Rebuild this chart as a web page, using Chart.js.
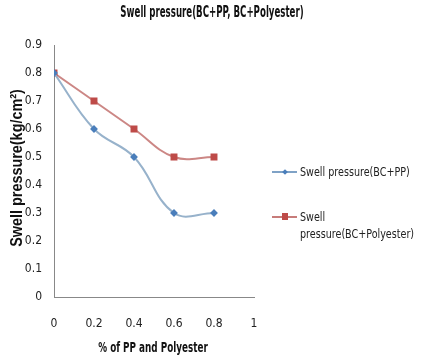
<!DOCTYPE html>
<html><head><meta charset="utf-8">
<script src="https://cdn.jsdelivr.net/npm/chart.js@4/dist/chart.umd.min.js"></script>
<style>
html,body{margin:0;padding:0;background:#fff;}
#wrap{position:relative;width:430px;height:358px;}
#legend{position:absolute;left:272px;top:160px;font-family:"DejaVu Sans Condensed","Liberation Sans Narrow",sans-serif;font-size:13px;color:#222;}
.item{position:absolute;left:0;white-space:nowrap;line-height:17px;}
.sw{position:absolute;left:0;top:8px;width:25px;height:2px;}
.mk{position:absolute;}
.txt{position:absolute;left:28px;top:0;transform:scaleX(0.82);transform-origin:left top;}
</style></head>
<body><div id="wrap"><canvas id="c" width="430" height="358"></canvas>
<div id="legend">
 <div class="item" style="top:3px"><div class="sw" style="background:#7FA2C6"></div><div class="mk" style="top:7px;left:11px;width:4px;height:4px;background:#4A7EBB;transform:rotate(45deg)"></div><div class="txt">Swell pressure(BC+PP)</div></div>
 <div class="item" style="top:48px"><div class="sw" style="background:#C77C7A"></div><div class="mk" style="top:5px;left:10px;width:6px;height:7px;background:#BE4B48"></div><div class="txt">Swell<br>pressure(BC+Polyester)</div></div>
</div></div>
<script>
const xValues = [0, 0.2, 0.4, 0.6, 0.8];
const ppValues = [0.8, 0.6, 0.5, 0.3, 0.3];
const polyValues = [0.8, 0.7, 0.6, 0.5, 0.5];
const seriesNames = ["Swell pressure(BC+PP)", "Swell pressure(BC+Polyester)"];
const xTickLabels = [0, 0.2, 0.4, 0.6, 0.8, 1];
const yTickLabels = [0, 0.1, 0.2, 0.3, 0.4, 0.5, 0.6, 0.7, 0.8, 0.9];
const chartTitle = 'Swell pressure(BC+PP, BC+Polyester)';
const xAxisTitle = '% of PP and Polyester';
const yAxisTitle = 'Swell pressure(kg/cm²)';

const narrow = '"DejaVu Sans Condensed","Liberation Sans Narrow",sans-serif';
const toPts = (ys) => xValues.map((x, i) => ({x, y: ys[i]}));

function drawText(ctx, text, x, y, font, sx, rot) {
  ctx.save();
  ctx.translate(x, y);
  if (rot) ctx.rotate(rot);
  ctx.scale(sx, 1);
  ctx.font = font;
  ctx.fillStyle = '#111';
  ctx.textAlign = 'center';
  ctx.textBaseline = 'middle';
  ctx.fillText(text, 0, 0);
  ctx.restore();
}

const titles = {
  id: 'titles',
  afterDraw(chart) {
    const ctx = chart.ctx, a = chart.chartArea;
    drawText(ctx, chartTitle, chart.width / 2 - 3, 13, 'bold 15px ' + narrow, 0.64, 0);
    drawText(ctx, xAxisTitle, (a.left + a.right) / 2 - 1, 348, 'bold 14px ' + narrow, 0.7, 0);
    drawText(ctx, yAxisTitle, 18, 168, 'bold 16px "Liberation Sans",Arial,sans-serif', 0.9, -Math.PI / 2);
  }
};

new Chart(document.getElementById('c'), {
  type: 'line',
  data: {
    datasets: [
      {label: seriesNames[0], data: toPts(ppValues), borderColor: '#97B2CB', backgroundColor: '#4A7EBB',
       pointStyle: 'rectRot', pointRadius: 2.5, pointBorderColor: '#4A7EBB', pointBackgroundColor: '#4A7EBB', borderWidth: 2, tension: 0.4},
      {label: seriesNames[1], data: toPts(polyValues), borderColor: '#CC8785', backgroundColor: '#BE4B48',
       pointStyle: 'rect', pointRadius: 3.5, pointBorderColor: '#BE4B48', pointBackgroundColor: '#BE4B48', borderWidth: 2, tension: 0.4}
    ]
  },
  options: {
    responsive: false, animation: false,
    layout: {padding: {left: 0, right: 176, top: 45, bottom: 0}},
    plugins: {
      legend: {display: false},
      tooltip: {enabled: false},
      title: {display: false}
    },
    scales: {
      x: {type: 'linear', min: 0, max: 1,
        afterBuildTicks: s => { s.ticks = xTickLabels.map(v => ({value: v})); },
        afterFit: s => { s.height = 61; },
        ticks: {color: '#222', font: {family: narrow, size: 12}, padding: 12, callback: v => String(v)},
        grid: {display: false}, border: {display: true, color: '#888', width: 1}
      },
      y: {type: 'linear', min: 0, max: 0.9,
        afterBuildTicks: s => { s.ticks = yTickLabels.map(v => ({value: v})); },
        afterFit: s => { s.width = 54; },
        ticks: {color: '#222', font: {family: narrow, size: 12}, padding: 4, callback: v => String(v)},
        grid: {display: false}, border: {display: true, color: '#888', width: 1}
      }
    }
  },
  plugins: [titles]
});
</script></body></html>
